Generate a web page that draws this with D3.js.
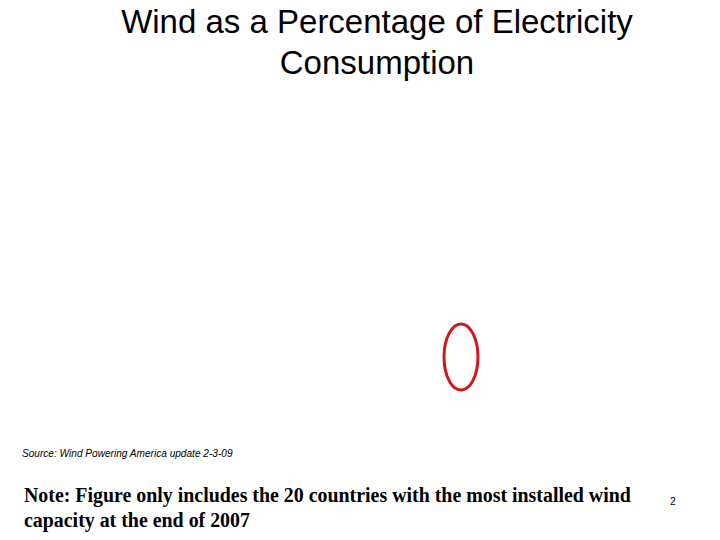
<!DOCTYPE html>
<html><head><meta charset="utf-8">
<script src="https://cdn.jsdelivr.net/npm/d3@7"></script>
<style>html,body{margin:0;padding:0;background:#fff;}svg{display:block;}</style>
</head><body>
<script>
const titleLines = ["Wind as a Percentage of Electricity", "Consumption"];
const sourceText = "Source: Wind Powering America update 2-3-09";
const noteLines = ["Note: Figure only includes the 20 countries with the most installed wind", "capacity at the end of 2007"];
const pageNumber = "2";
const highlight = [{cx: 461, cy: 357, rx: 17, ry: 33}];

const svg = d3.select("body").append("svg").attr("width", 720).attr("height", 540);
svg.append("rect").attr("width", 720).attr("height", 540).attr("fill", "#fff");

svg.selectAll("text.title").data(titleLines).join("text")
  .attr("class", "title")
  .attr("x", 377).attr("y", (d, i) => 33 + i * 41)
  .attr("text-anchor", "middle")
  .attr("font-family", "Liberation Sans, Arial, sans-serif")
  .attr("font-size", 33).attr("fill", "#000")
  .text(d => d);

svg.selectAll("ellipse").data(highlight).join("ellipse")
  .attr("cx", d => d.cx).attr("cy", d => d.cy)
  .attr("rx", d => d.rx).attr("ry", d => d.ry)
  .attr("fill", "none").attr("stroke", "#d01818").attr("stroke-width", 3);

svg.append("text").attr("x", 22).attr("y", 457)
  .attr("font-family", "Liberation Sans, Arial, sans-serif")
  .attr("font-style", "italic").attr("font-size", 10.1).attr("fill", "#000")
  .text(sourceText);

svg.selectAll("text.note").data(noteLines).join("text")
  .attr("class", "note")
  .attr("x", 24).attr("y", (d, i) => 502 + i * 25)
  .attr("font-family", "Liberation Serif, Times New Roman, serif")
  .attr("font-weight", "bold").attr("font-size", 19.9).attr("fill", "#000")
  .text(d => d);

svg.append("text").attr("x", 670).attr("y", 505)
  .attr("font-family", "Liberation Sans, Arial, sans-serif")
  .attr("font-size", 10).attr("fill", "#000")
  .text(pageNumber);
</script>
</body></html>
